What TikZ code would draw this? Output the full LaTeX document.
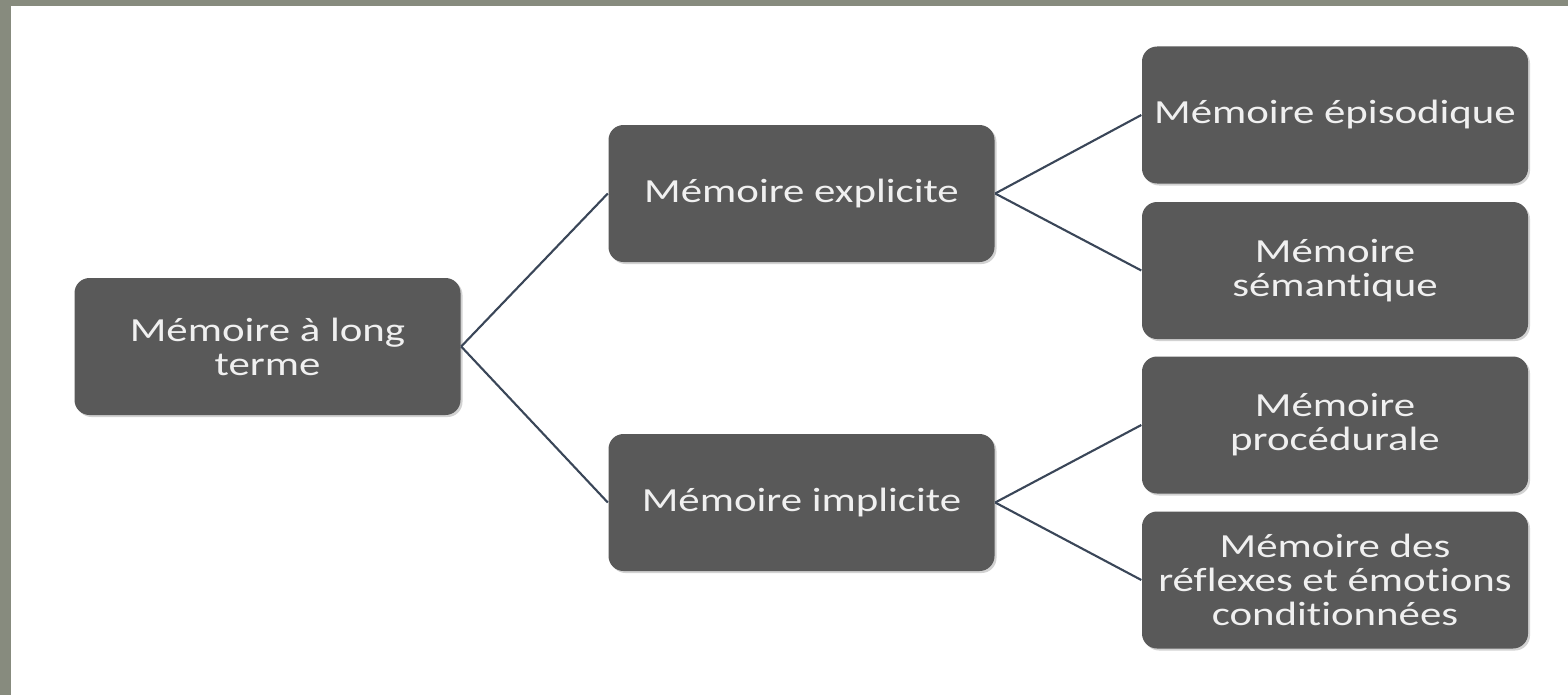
\documentclass[tikz,border=0pt]{standalone}
\usepackage{fontspec}
\setmainfont{Carlito}[FakeStretch=1.27,Ligatures=NoCommon]
\usetikzlibrary{shadows}
\definecolor{frame}{HTML}{878B7E}
\definecolor{boxfill}{HTML}{595959}
\definecolor{boxtext}{HTML}{F0F0F0}
\definecolor{link}{HTML}{3A4658}
\begin{document}
\begin{tikzpicture}[mem/.style={fill=boxfill,rounded corners=0.15cm,minimum width=3.86cm,minimum height=1.37cm,
    align=center,text=boxtext,font=\fontsize{9.6}{9.7}\selectfont,inner sep=0pt,
    drop shadow={shadow xshift=0.02cm,shadow yshift=-0.02cm,opacity=0.35}},
  link/.style={draw=link,line width=0.6pt}]
\useasboundingbox (0,0) rectangle (15.68,6.95);
\fill[frame] (0,0) rectangle (15.68,6.95);
\fill[white] (0.11,0) rectangle (15.68,6.89);
\node[mem] (longterme) at (2.675,3.485) {Mémoire à long\\terme};
\node[mem] (explicite) at (8.015,5.015) {Mémoire explicite};
\node[mem] (implicite) at (8.015,1.925) {Mémoire implicite};
\node[mem] (episodique) at (13.35,5.80) {Mémoire épisodique};
\node[mem] (semantique) at (13.35,4.245) {Mémoire\\sémantique};
\node[mem] (procedurale) at (13.35,2.70) {Mémoire\\procédurale};
\node[mem] (reflexes) at (13.35,1.15) {Mémoire des\\réflexes et émotions\\conditionnées};
\draw[link] (longterme.east) -- (explicite.west);
\draw[link] (longterme.east) -- (implicite.west);
\draw[link] (explicite.east) -- (episodique.west);
\draw[link] (explicite.east) -- (semantique.west);
\draw[link] (implicite.east) -- (procedurale.west);
\draw[link] (implicite.east) -- (reflexes.west);
\end{tikzpicture}
\end{document}
